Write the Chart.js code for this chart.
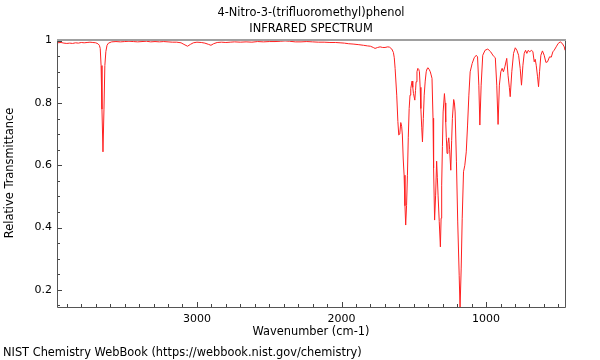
<!DOCTYPE html>
<html><head><meta charset="utf-8">
<script src="https://cdn.jsdelivr.net/npm/chart.js@4.4.1/dist/chart.umd.min.js"></script>
<style>html,body{margin:0;padding:0;background:#fff}</style>
</head><body>
<canvas id="c" width="600" height="360"></canvas>
<script>
const titleLines = ['4-Nitro-3-(trifluoromethyl)phenol', 'INFRARED SPECTRUM'];
const xAxisTitle = 'Wavenumber (cm-1)';
const yAxisTitle = 'Relative Transmittance';
const footerText = 'NIST Chemistry WebBook (https://webbook.nist.gov/chemistry)';
const xMajorTicks = [1000, 2000, 3000];
const yMajorTicks = [0.2, 0.4, 0.6, 0.8, 1];

const wavenumbers = [
  3968,3940,3920,3900,3880,3860,3840,3820,3800,3780,3760,3740,3720,3700,3685,3675,3669,3663,3657,3650,
  3643,3637,3630,3622,3612,3590,3560,3530,3500,3470,3440,3410,3380,3350,3320,3290,3260,3230,3200,3170,
  3140,3110,3090,3065,3045,3025,3000,2970,2945,2920,2903,2885,2860,2830,2800,2770,2740,2700,2660,2620,
  2580,2540,2500,2460,2420,2390,2360,2320,2280,2240,2200,2160,2120,2080,2040,2010,1980,1950,1920,1880,
  1848,1820,1800,1780,1768,1750,1733,1715,1699,1680,1668,1652,1641,1635,1629,1618,1610,1604,1597,1590,
  1584,1579,1573,1567,1561,1556,1550,1544,1538,1532,1526,1521,1512,1507,1502,1493,1488,1484,1478,1472,
  1466,1461,1456,1451,1445,1440,1434,1428,1421,1414,1408,1402,1394,1386,1380,1374,1367,1363,1356,1349,
  1342,1337,1332,1324,1316,1311,1307,1302,1297,1288,1283,1279,1275,1270,1264,1258,1252,1244,1238,1233,
  1224,1219,1214,1205,1196,1186,1180,1172,1165,1156,1147,1137,1128,1119,1110,1096,1082,1068,1059,1050,
  1043,1034,1023,1007,988,968,950,936,926,917,908,898,889,880,870,857,848,839,833,822,
  810,798,787,775,764,755,745,736,727,718,708,699,685,676,667,660,653,644,637,630,
  621,610,598,586,575,561,549,538,529,515,501,487,473,459,454
];
const transmittance = [
  0.993,0.994,0.992,0.991,0.992,0.991,0.993,0.992,0.994,0.993,0.994,0.995,0.994,0.993,0.990,0.985,0.975,0.920,0.780,0.643,
  0.780,0.920,0.965,0.985,0.992,0.996,0.997,0.996,0.997,0.998,0.997,0.996,0.997,0.998,0.996,0.997,0.996,0.997,0.996,0.995,
  0.995,0.993,0.988,0.982,0.988,0.993,0.995,0.994,0.992,0.988,0.985,0.990,0.994,0.995,0.994,0.995,0.996,0.995,0.996,0.995,
  0.997,0.996,0.997,0.997,0.998,0.999,0.998,0.996,0.996,0.997,0.996,0.995,0.995,0.994,0.994,0.993,0.992,0.990,0.989,0.987,
  0.985,0.983,0.982,0.978,0.975,0.978,0.980,0.978,0.978,0.980,0.979,0.973,0.962,0.945,0.910,0.825,0.740,0.697,0.700,0.737,
  0.725,0.697,0.620,0.568,0.470,0.408,0.470,0.568,0.690,0.782,0.825,0.846,0.870,0.850,0.830,0.809,0.840,0.868,0.900,0.911,
  0.908,0.900,0.850,0.782,0.720,0.675,0.750,0.825,0.870,0.900,0.910,0.913,0.908,0.900,0.890,0.879,0.751,0.591,0.424,0.504,
  0.613,0.560,0.504,0.420,0.338,0.430,0.536,0.660,0.771,0.830,0.800,0.739,0.690,0.638,0.670,0.688,0.650,0.584,0.680,0.750,
  0.811,0.800,0.771,0.611,0.418,0.247,0.140,0.270,0.430,0.579,0.600,0.643,0.729,0.825,0.900,0.927,0.945,0.953,0.948,0.857,
  0.729,0.857,0.953,0.969,0.973,0.964,0.951,0.945,0.857,0.731,0.857,0.900,0.911,0.900,0.916,0.943,0.889,0.850,0.820,0.900,
  0.959,0.977,0.969,0.953,0.911,0.857,0.921,0.959,0.969,0.959,0.969,0.964,0.969,0.964,0.932,0.940,0.921,0.884,0.852,0.900,
  0.953,0.967,0.953,0.930,0.932,0.948,0.947,0.964,0.969,0.980,0.991,0.996,0.991,0.980,0.969
];

const FONT = 'DejaVu Sans';
const points = wavenumbers.map((w, i) => ({x: w, y: transmittance[i]}));

function isMajor(v, list) { return list.some(m => Math.abs(m - v) < 1e-6); }

const framePlugin = {
  id: 'frame',
  afterDraw(chart) {
    const ctx = chart.ctx;
    const a = chart.chartArea;
    const xs = chart.scales.x, ys = chart.scales.y;
    ctx.save();
    ctx.strokeStyle = '#444';
    ctx.lineWidth = 1;
    ctx.beginPath();
    xs.ticks.forEach(t => {
      const px = Math.round(xs.getPixelForValue(t.value)) + 0.5;
      const len = isMajor(t.value, xMajorTicks) ? 5 : 3;
      ctx.moveTo(px, a.bottom);
      ctx.lineTo(px, a.bottom - len);
    });
    ys.ticks.forEach(t => {
      const py = Math.round(ys.getPixelForValue(t.value)) + 0.5;
      const len = isMajor(t.value, yMajorTicks) ? 5 : 3;
      ctx.moveTo(a.left, py);
      ctx.lineTo(a.left + len, py);
    });
    ctx.stroke();
    ctx.strokeStyle = '#555';
    ctx.lineWidth = 1;
    ctx.beginPath();
    ctx.moveTo(a.left + 0.5, a.top);
    ctx.lineTo(a.left + 0.5, a.bottom + 0.5);
    ctx.lineTo(a.right + 0.5, a.bottom + 0.5);
    ctx.lineTo(a.right + 0.5, a.top);
    ctx.stroke();
    ctx.strokeStyle = '#a0a0a0';
    ctx.lineWidth = 2;
    ctx.beginPath();
    ctx.moveTo(a.left, a.top);
    ctx.lineTo(a.right + 1, a.top);
    ctx.stroke();
    ctx.fillStyle = '#000';
    ctx.font = '11.4px "' + FONT + '"';
    ctx.textAlign = 'center';
    ctx.textBaseline = 'middle';
    const cx = (a.left + a.right) / 2;
    ctx.fillText(titleLines[0], cx, 13);
    ctx.fillText(titleLines[1], cx, 29.5);
    ctx.fillText(xAxisTitle, cx, 332);
    ctx.textAlign = 'left';
    ctx.fillText(footerText, 3, 353);
    ctx.translate(10, 173);
    ctx.rotate(-Math.PI / 2);
    ctx.textAlign = 'center';
    ctx.fillText(yAxisTitle, 0, 0);
    ctx.restore();
  }
};

new Chart(document.getElementById('c'), {
  type: 'line',
  data: {
    datasets: [{
      data: points,
      borderColor: '#ff2020',
      borderWidth: 1,
      pointRadius: 0,
      tension: 0,
      fill: false
    }]
  },
  options: {
    responsive: false,
    animation: false,
    events: [],
    layout: {padding: {top: 40, right: 35, left: 0, bottom: 0}},
    plugins: {legend: {display: false}, title: {display: false}, tooltip: {enabled: false}},
    scales: {
      x: {
        type: 'linear',
        reverse: true,
        min: 454,
        max: 3968,
        grid: {display: false, drawTicks: false},
        border: {display: false},
        ticks: {
          stepSize: 100,
          includeBounds: false,
          autoSkip: false,
          maxRotation: 0,
          padding: 6,
          color: '#000',
          font: {family: FONT, size: 11},
          callback: v => isMajor(v, xMajorTicks) ? String(v) : ''
        },
        afterFit: s => { s.height = 53; }
      },
      y: {
        type: 'linear',
        min: 0.145,
        max: 1.002,
        grid: {display: false, drawTicks: false},
        border: {display: false},
        ticks: {
          stepSize: 0.05,
          includeBounds: false,
          autoSkip: false,
          padding: 5,
          color: '#000',
          font: {family: FONT, size: 11},
          callback: v => isMajor(v, yMajorTicks) ? (Math.abs(v - 1) < 1e-6 ? '1' : v.toFixed(1)) : ''
        },
        afterFit: s => { s.width = 57; }
      }
    }
  },
  plugins: [framePlugin]
});
</script>
</body></html>
